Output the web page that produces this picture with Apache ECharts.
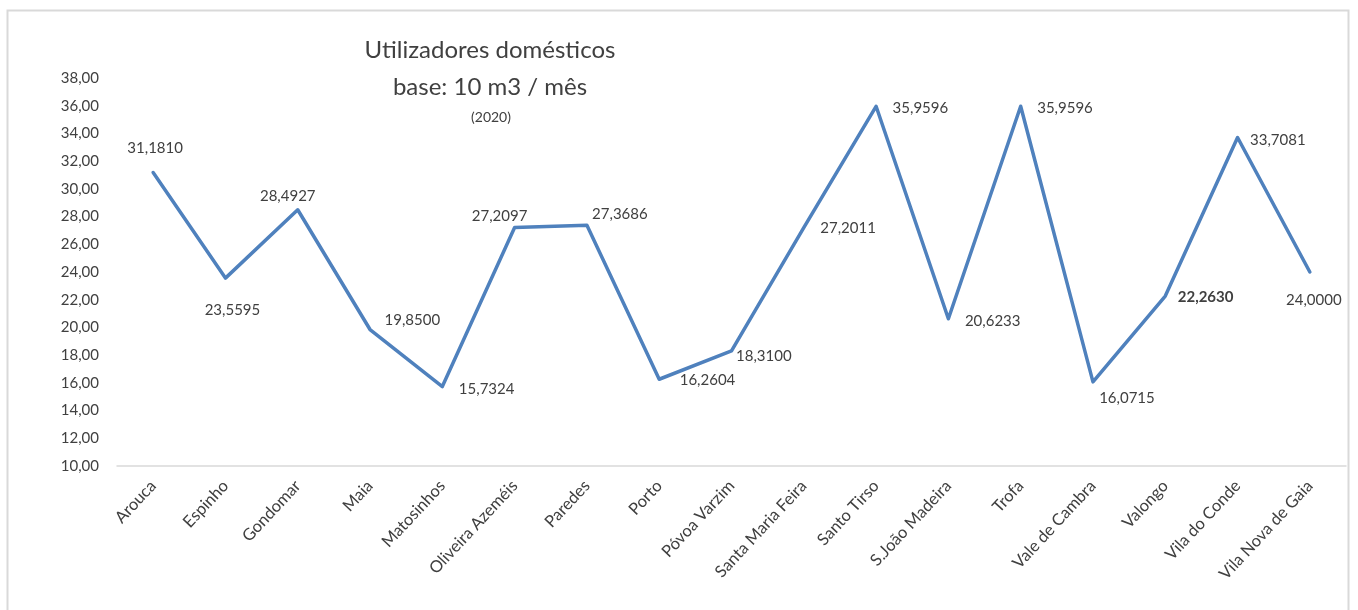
<!DOCTYPE html>
<html>
<head>
<meta charset="utf-8">
<script src="https://cdn.jsdelivr.net/npm/echarts@6/dist/echarts.min.js"></script>
<style>html,body{margin:0;padding:0;background:#fff}#c{width:1358px;height:610px}</style>
</head>
<body>
<div id="c"></div>
<script>
const categories = ["Arouca","Espinho","Gondomar","Maia","Matosinhos","Oliveira Azeméis","Paredes","Porto","Póvoa Varzim","Santa Maria Feira","Santo Tirso","S.João Madeira","Trofa","Vale de Cambra","Valongo","Vila do Conde","Vila Nova de Gaia"];
const values = [31.1810,23.5595,28.4927,19.8500,15.7324,27.2097,27.3686,16.2604,18.3100,27.2011,35.9596,20.6233,35.9596,16.0715,22.2630,33.7081,24.0000];
const yTicks = {min:10, max:38, interval:2};
const titleLines = ["Utilizadores domésticos","base: 10 m3 / mês","(2020)"];

// label placement per point (style only)
const labelCfg = [
  {position:'top', distance:16, offset:[2,0]},
  {position:'bottom', distance:24, offset:[7,0]},
  {position:'top', distance:6, offset:[-10,0]},
  {position:'right', distance:14, offset:[0,-9]},
  {position:'right', distance:16, offset:[0,3]},
  {position:'top', distance:3, offset:[-15,0]},
  {position:'top', distance:3, offset:[33,0]},
  {position:'right', distance:20, offset:[0,1]},
  {position:'right', distance:4, offset:[0,5]},
  {position:'right', distance:16, offset:[0,1]},
  {position:'right', distance:16, offset:[0,2]},
  {position:'right', distance:16, offset:[0,2]},
  {position:'right', distance:16, offset:[0,2]},
  {position:'bottom', distance:8, offset:[34,0]},
  {position:'right', distance:12, offset:[0,1], fontWeight:'bold'},
  {position:'right', distance:12, offset:[0,3]},
  {position:'bottom', distance:20, offset:[4,0]}
];

const fmt = v => v.toFixed(4).replace('.', ',');
const data = values.map((v,i)=>({value:v, label:Object.assign({show:true}, labelCfg[i])}));

const chart = echarts.init(document.getElementById('c'));
chart.setOption({
  backgroundColor:'#fff',
  animation:false,
  title:[
    {text:titleLines[0], left:485, top:33, textAlign:'center', textStyle:{fontFamily:'Lato', fontSize:24, fontWeight:'normal', color:'#404040'}},
    {text:titleLines[1], left:485, top:70, textAlign:'center', textStyle:{fontFamily:'Lato', fontSize:24, fontWeight:'normal', color:'#404040'}},
    {text:titleLines[2], left:486, top:105, textAlign:'center', textStyle:{fontFamily:'Lato', fontSize:14, fontWeight:'normal', color:'#404040'}}
  ],
  graphic:[
    {type:'polyline', shape:{points:[[7.5,611],[7.5,10.5],[1348.5,10.5],[1348.5,611]]}, style:{stroke:'#d9d9d9', lineWidth:2, fill:null}}
  ],
  grid:{left:117, right:12, top:78, bottom:144, containLabel:false},
  xAxis:{
    type:'category', data:categories, boundaryGap:true,
    axisLine:{lineStyle:{color:'#d9d9d9', width:1.5}},
    axisTick:{show:false},
    axisLabel:{rotate:47, interval:0, margin:17, fontFamily:'Lato', fontSize:16.5, color:'#404040'}
  },
  yAxis:{
    type:'value', min:yTicks.min, max:yTicks.max, interval:yTicks.interval,
    axisLine:{show:false}, axisTick:{show:false}, splitLine:{show:false},
    axisLabel:{margin:18, fontFamily:'Lato', fontSize:15, color:'#404040', formatter:v=>v.toFixed(2).replace('.', ',')}
  },
  series:[{
    type:'line', data:data, symbol:'circle', symbolSize:1, showSymbol:true,
    itemStyle:{color:'rgba(0,0,0,0)'},
    lineStyle:{color:'#4f81bd', width:3.5, cap:'round', join:'round'},
    label:{show:true, formatter:p=>fmt(p.value), fontFamily:'Lato', fontSize:15, color:'#404040'}
  }]
});
</script>
</body>
</html>
